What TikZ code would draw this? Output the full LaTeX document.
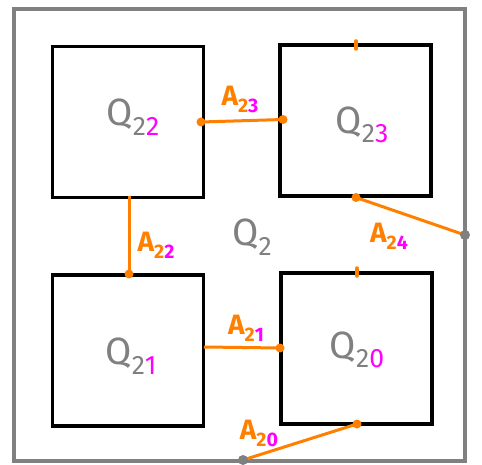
\documentclass[tikz,border=0pt]{standalone}
\usepackage{fontspec}
\setmainfont{Fira Sans}
\usepackage{xcolor}
\definecolor{qgray}{HTML}{808080}
\definecolor{aorange}{HTML}{FF8000}
\definecolor{smag}{HTML}{FF00FF}
\newcommand{\sbs}[1]{\raisebox{-0.25em}{\fontsize{0.7em}{0.7em}\selectfont #1}}
\begin{document}
\begin{tikzpicture}[x=1pt,y=-1pt,
  sq/.style={draw=black,line width=3.2pt,minimum width=151pt,minimum height=151pt,inner sep=0pt},
  frame/.style={draw=qgray,line width=3.2pt},
  link/.style={draw=aorange,line width=3pt},
  odot/.style={circle,fill=aorange,inner sep=0pt,minimum size=9pt},
  gdot/.style={circle,fill=qgray,inner sep=0pt,minimum size=10pt},
  qlab/.style={text=qgray,font=\fontsize{38}{38}\selectfont},
  alab/.style={text=aorange,font=\bfseries\fontsize{28}{28}\selectfont},
  tick/.style={draw=aorange,line width=3.5pt,line cap=round}]
\useasboundingbox (0,0) rectangle (482,465);
\draw[frame] (14,9) rectangle (465,461);
\node[sq] (q22) at (128,122) {};
\node[sq] (q23) at (355.5,120.5) {};
\node[sq] (q21) at (128,350.5) {};
\node[sq] (q20) at (356.5,348.5) {};
% connector ends
\coordinate (a23s) at (201,122);
\coordinate (a23e) at (283,119.5);
\coordinate (a22s) at (129,196);
\coordinate (a22e) at (129,274);
\coordinate (a21s) at (204,347);
\coordinate (a21e) at (280,348);
\coordinate (a24s) at (356,197.5);
\coordinate (a24e) at (465,235);
\coordinate (a20s) at (357,424);
\coordinate (a20e) at (243,460);
\draw[link] (a23s) -- (a23e);
\draw[link] (a22s) -- (a22e);
\draw[link] (a21s) -- (a21e);
\draw[link] (a24s) -- (a24e);
\draw[link] (a20s) -- (a20e);
\node[odot] at (a23s) {};
\node[odot] at (a23e) {};
\node[odot] at (a22e) {};
\node[odot] at (a21e) {};
\node[odot] at (a24s) {};
\node[odot] at (a20s) {};
\node[gdot] at (a24e) {};
\node[gdot] at (a20e) {};
\coordinate (t1a) at (356,41); \coordinate (t1b) at (356,49);
\coordinate (t2a) at (357,268); \coordinate (t2b) at (357,276);
\draw[tick] (t1a) -- (t1b);
\draw[tick] (t2a) -- (t2b);
% labels
\node[qlab] (lq22) at (133,117) {Q\sbs{2\textcolor{smag}{2}}};
\node[qlab] (lq23) at (362,125) {Q\sbs{2\textcolor{smag}{3}}};
\node[qlab] (lq2) at (252,237) {Q\sbs{2}};
\node[qlab] (lq21) at (131,356) {Q\sbs{2\textcolor{smag}{1}}};
\node[qlab] (lq20) at (357,350) {Q\sbs{2\textcolor{smag}{0}}};
\node[alab] (la23) at (240,99) {A\sbs{2\textcolor{smag}{3}}};
\node[alab] (la22) at (156,245) {A\sbs{2\textcolor{smag}{2}}};
\node[alab] (la21) at (246,328) {A\sbs{2\textcolor{smag}{1}}};
\node[alab] (la24) at (389,236) {A\sbs{2\textcolor{smag}{4}}};
\node[alab] (la20) at (259,433) {A\sbs{2\textcolor{smag}{0}}};
\end{tikzpicture}
\end{document}
